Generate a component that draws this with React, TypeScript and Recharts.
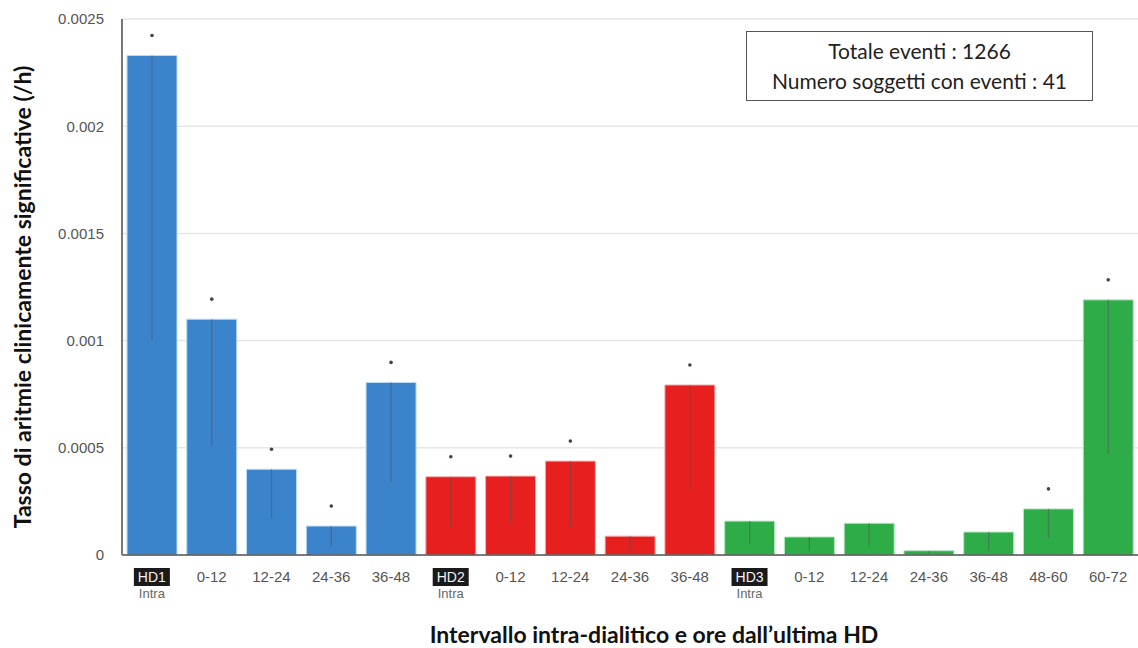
import { BarChart, Bar, XAxis, YAxis, CartesianGrid, ErrorBar, Cell, LabelList } from 'recharts';

// intervals along the x axis (HD sessions and hours since the last HD)
const labels = ['HD1', '0-12', '12-24', '24-36', '36-48', 'HD2', '0-12', '12-24', '24-36', '36-48', 'HD3', '0-12', '12-24', '24-36', '36-48', '48-60', '60-72'];
const session = [1, 1, 1, 1, 1, 2, 2, 2, 2, 2, 3, 3, 3, 3, 3, 3, 3];
// event rate (/h) and lower bound of the interval
const rates = [0.00233, 0.0011, 0.0004, 0.000135, 0.000805, 0.000365, 0.000368, 0.000438, 0.000088, 0.000793, 0.000158, 0.000084, 0.000148, 0.00002, 0.000107, 0.000215, 0.00119];
const lowers = [0.001, 0.00051, 0.00017, 0.00004, 0.00034, 0.00013, 0.00015, 0.00013, 0.00002, 0.00031, 0.00005, 0.00002, 0.00004, 0.000005, 0.00002, 0.00008, 0.00047];
const significant = [true, true, true, true, true, true, true, true, false, true, false, false, false, false, false, true, true];
const yTicks = [0, 0.0005, 0.001, 0.0015, 0.002, 0.0025];

const COLORS: Record<number, string> = { 1: '#3B83CB', 2: '#E71F1F', 3: '#2EAC48' };
const EDGES: Record<number, string> = { 1: '#B9DDF5', 2: '#F6B0B0', 3: '#B5E6BF' };
const TICK_FONT = 'Liberation Sans, Arial, sans-serif';

const data = labels.map((label, i) => ({
  key: String(i),
  label,
  rate: rates[i],
  err: [rates[i] - lowers[i], 0],
  sig: significant[i] ? 1 : 0,
}));

function IntervalTick(props: any) {
  const { x, y, payload } = props;
  const label = labels[payload.index];
  const isSession = label.startsWith('HD');
  const top = y + 5;
  if (isSession) {
    return (
      <g>
        <rect x={x - 18} y={top} width={36} height={18} fill="#1a1a1a" />
        <text x={x} y={top + 14} textAnchor="middle" fill="#f2f2f2" fontSize={14} fontFamily={TICK_FONT}>
          {label}
        </text>
        <text x={x} y={top + 30} textAnchor="middle" fill="#666" fontSize={13} fontFamily={TICK_FONT}>
          Intra
        </text>
      </g>
    );
  }
  return (
    <text x={x} y={top + 14} textAnchor="middle" fill="#555" fontSize={15} fontFamily={TICK_FONT}>
      {label}
    </text>
  );
}

function SigDot(props: any) {
  const { x, y, width, value } = props;
  if (!value) return null;
  return <circle cx={x + width / 2} cy={y - 20} r={1.8} fill="#444" />;
}

export default function App() {
  return (
    <div style={{ position: 'absolute', left: 0, top: 0, width: 1138, height: 648, background: '#fff' }}>
      <BarChart width={1138} height={648} data={data} margin={{ top: 19, right: 0, left: 0, bottom: 43 }} barSize={50}>
        <CartesianGrid vertical={false} stroke="#e6e6e6" strokeWidth={1.5} />
        <XAxis dataKey="key" interval={0} tick={<IntervalTick />} tickLine={false} axisLine={{ stroke: '#555', strokeWidth: 1.5 }} height={50} />
        <YAxis
          width={122}
          domain={[0, 0.0025]}
          ticks={yTicks}
          tickFormatter={(v: number) => String(v)}
          tickLine={false}
          axisLine={{ stroke: '#777', strokeWidth: 2 }}
          tick={{ fill: '#555', fontSize: 15, fontFamily: TICK_FONT }}
          tickMargin={12}
        />
        <Bar dataKey="rate" isAnimationActive={false}>
          {data.map((d, i) => (
            <Cell key={d.key} fill={COLORS[session[i]]} stroke={EDGES[session[i]]} strokeWidth={1} />
          ))}
          <ErrorBar dataKey="err" width={0} stroke="#555" strokeOpacity={0.55} strokeWidth={1.2} direction="y" />
          <LabelList dataKey="sig" content={<SigDot />} />
        </Bar>
      </BarChart>

      <div
        style={{
          position: 'absolute',
          left: 22,
          top: 297,
          transform: 'translate(-50%, -50%) rotate(-90deg)',
          whiteSpace: 'nowrap',
          fontFamily: 'Lato, sans-serif',
          fontWeight: 700,
          fontSize: 23,
          color: '#111',
        }}
      >
        Tasso di aritmie clinicamente significative (/h)
      </div>

      <div
        style={{
          position: 'absolute',
          left: 654,
          top: 634,
          transform: 'translate(-50%, -50%)',
          whiteSpace: 'nowrap',
          fontFamily: 'Lato, sans-serif',
          fontWeight: 700,
          fontSize: 23,
          color: '#111',
        }}
      >
        Intervallo intra-dialitico e ore dall’ultima HD
      </div>

      <div
        style={{
          position: 'absolute',
          left: 746,
          top: 31,
          width: 347,
          height: 70,
          border: '1px solid #555',
          background: '#fff',
          boxSizing: 'border-box',
          display: 'flex',
          flexDirection: 'column',
          justifyContent: 'center',
          alignItems: 'center',
          fontFamily: 'Lato, sans-serif',
          fontSize: 21,
          lineHeight: '30px',
          color: '#222',
        }}
      >
        <div>Totale eventi : 1266</div>
        <div>Numero soggetti con eventi : 41</div>
      </div>
    </div>
  );
}
